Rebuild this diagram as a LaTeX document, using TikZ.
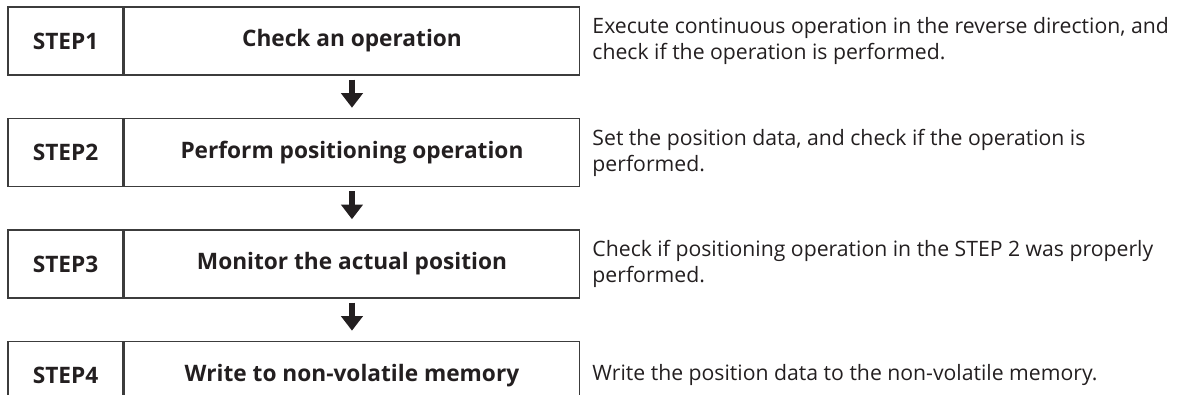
\documentclass[tikz,border=0pt]{standalone}
\usepackage{fontspec}
\setmainfont{Open Sans}
\usetikzlibrary{positioning,arrows.meta}
\definecolor{boxline}{RGB}{60,60,60}
\definecolor{textdark}{RGB}{35,31,32}

\begin{document}
\begin{tikzpicture}[
    x=0.75pt, y=-0.75pt,
    node distance=31.5pt,
    stepbox/.style={rectangle, draw=boxline, line width=1.1pt, minimum width=86.25pt, minimum height=51pt, inner sep=0pt, text=textdark, font=\bfseries\fontsize{17}{20}\selectfont},
    titlebox/.style={stepbox, minimum width=341.25pt},
    note/.style={inner sep=0pt, align=left, text=textdark, font=\fontsize{15.9}{19.5}\selectfont},
    flow/.style={-{Triangle[width=16pt,length=11pt]}, line width=3.9pt, textdark, shorten <=3pt, shorten >=7.5pt}
]
    \useasboundingbox (0,0) rectangle (1181,394);

    % Steps
    \node[stepbox] (s1) at (65.5,41) {STEP1};
    \node[titlebox, right=0pt of s1] (t1) {Check an operation};
    \node[stepbox, below=of s1] (s2) {STEP2};
    \node[titlebox, right=0pt of s2] (t2) {Perform positioning operation};
    \node[stepbox, below=of s2] (s3) {STEP3};
    \node[titlebox, right=0pt of s3] (t3) {Monitor the actual position};
    \node[stepbox, below=of s3] (s4) {STEP4};
    \node[titlebox, right=0pt of s4] (t4) {Write to non-volatile memory};

    % Notes
    \node[note, right=9pt of t1] (n1) {Execute continuous operation in the reverse direction, and\\check if the operation is performed.};
    \node[note, right=9pt of t2] (n2) {Set the position data, and check if the operation is\\performed.};
    \node[note, right=9pt of t3] (n3) {Check if positioning operation in the STEP 2 was properly\\performed.};
    \node[note, right=9pt of t4] (n4) {Write the position data to the non-volatile memory.};

    % Arrows
    \draw[flow] (t1) -- (t2);
    \draw[flow] (t2) -- (t3);
    \draw[flow] (t3) -- (t4);
\end{tikzpicture}
\end{document}
